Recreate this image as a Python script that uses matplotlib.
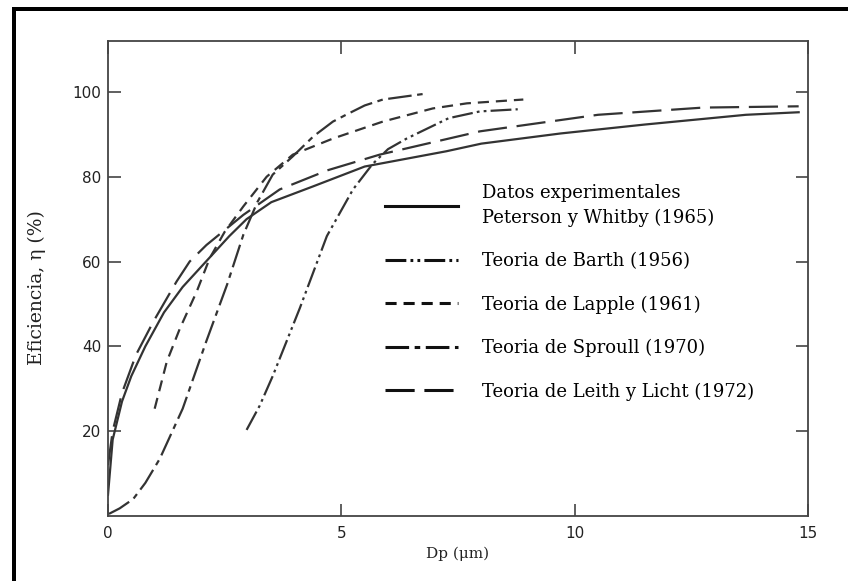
import matplotlib
matplotlib.use("Agg")
import matplotlib.pyplot as plt
from matplotlib.patches import Rectangle

plt.rcParams["lines.scale_dashes"] = False

# Datos experimentales, Peterson y Whitby (1965)
datos_x = [0, 0.1, 0.3, 0.5, 0.8, 1.2, 1.6, 2.1, 2.6, 2.97, 3.5, 4.39, 5.5, 7.25, 8.0, 9.7, 11.5, 13.67, 14.8]
datos_y = [5, 18, 27, 33, 40, 48, 54, 60, 66, 70, 74, 77.7, 82.4, 86, 87.8, 90.2, 92.3, 94.6, 95.2]

# Teoria de Barth (1956)
barth_x = [2.97, 3.25, 3.53, 4.11, 4.69, 5.25, 5.67, 6.0, 6.4, 7.3, 7.97, 8.78]
barth_y = [20.3, 26, 33, 49, 66, 77, 83, 86.5, 89, 93.8, 95.4, 95.9]

# Teoria de Lapple (1961)
lapple_x = [1.0, 1.26, 1.54, 1.9, 2.18, 2.5, 2.9, 3.4, 3.96, 4.82, 5.89, 6.96, 7.69, 8.9]
lapple_y = [25.3, 36.4, 44.2, 52.9, 60.8, 67, 73, 80, 85.2, 89, 93, 96.1, 97.3, 98.2]

# Teoria de Sproull (1970)
sproull_x = [0.02, 0.25, 0.54, 0.8, 1.11, 1.6, 2.1, 2.55, 2.9, 3.2, 3.53, 3.96, 4.4, 4.82, 5.1, 5.5, 5.89, 6.75]
sproull_y = [0.5, 1.8, 4, 7.8, 13.5, 25.3, 41, 54.5, 66.3, 74, 80.5, 84.8, 89.5, 93, 94.6, 96.8, 98.2, 99.5]

# Teoria de Leith y Licht (1972)
leith_x = [0, 0.1, 0.3, 0.6, 0.97, 1.47, 1.75, 2.11, 2.9, 3.68, 4.7, 5.82, 7.97, 10.5, 12.75, 14.8]
leith_y = [12, 20, 29, 38, 45.8, 55.3, 60, 63.9, 71, 77, 81.5, 85.2, 90.7, 94.6, 96.3, 96.6]

labels = [
    "Datos experimentales\nPeterson y Whitby (1965)",
    "Teoria de Barth (1956)",
    "Teoria de Lapple (1961)",
    "Teoria de Sproull (1970)",
    "Teoria de Leith y Licht (1972)",
]

fig = plt.figure(figsize=(8.48, 5.81), dpi=100)
fig.patch.set_facecolor("white")
ax = fig.add_axes([108 / 848, 65 / 581, 700 / 848, 475 / 581])

col = "#333333"
lw = 1.6
l1, = ax.plot(datos_x, datos_y, color=col, lw=lw, ls="-")
l2, = ax.plot(barth_x, barth_y, color=col, lw=lw, ls=(0, (15, 3, 2, 3, 2, 3)))
l3, = ax.plot(lapple_x, lapple_y, color=col, lw=lw, ls=(0, (8, 5)))
l4, = ax.plot(sproull_x, sproull_y, color=col, lw=lw, ls=(0, (17, 4, 4, 4)))
l5, = ax.plot(leith_x, leith_y, color=col, lw=lw, ls=(0, (21, 7)))

ax.set_xlim(0, 15)
ax.set_ylim(0, 112)
ax.set_xticks([0, 5, 10, 15])
ax.set_yticks([20, 40, 60, 80, 100])

for s in ax.spines.values():
    s.set_color("#444444")
    s.set_linewidth(1.3)
ax.tick_params(direction="in", length=9, width=1.2, color="#444444",
               top=True, right=True, labelsize=11, labelcolor="#222222")
ax.tick_params(axis="x", pad=7)
ax.tick_params(axis="y", pad=5)

ax.set_xlabel("Dp (\u03bcm)", family="DejaVu Serif", fontsize=11, color="#222222")
ax.xaxis.set_label_coords(0.5, -0.065)
ax.set_ylabel("Eficiencia, \u03b7 (%)", family="DejaVu Serif", fontsize=13.5, color="#222222")
ax.yaxis.set_label_coords(-0.088, 0.48)

leg = ax.legend([l1, l2, l3, l4, l5], labels, loc="upper left",
                bbox_to_anchor=(0.396, 0.70), frameon=False, borderpad=0,
                borderaxespad=0, handlelength=4.05, handletextpad=1.3,
                labelspacing=1.4, prop={"family": "DejaVu Serif", "size": 13})
for h in leg.get_lines():
    h.set_linewidth(2.2)
    h.set_color("#111111")
leg.get_texts()[0].set_linespacing(1.5)

# black frame strips of the scanned image
fig.add_artist(Rectangle((12 / 848, 0), 4 / 848, 574 / 581, transform=fig.transFigure,
                         color="black", lw=0))
fig.add_artist(Rectangle((12 / 848, 570 / 581), 836 / 848, 4 / 581, transform=fig.transFigure,
                         color="black", lw=0))

fig.savefig("out.png", dpi=100)
